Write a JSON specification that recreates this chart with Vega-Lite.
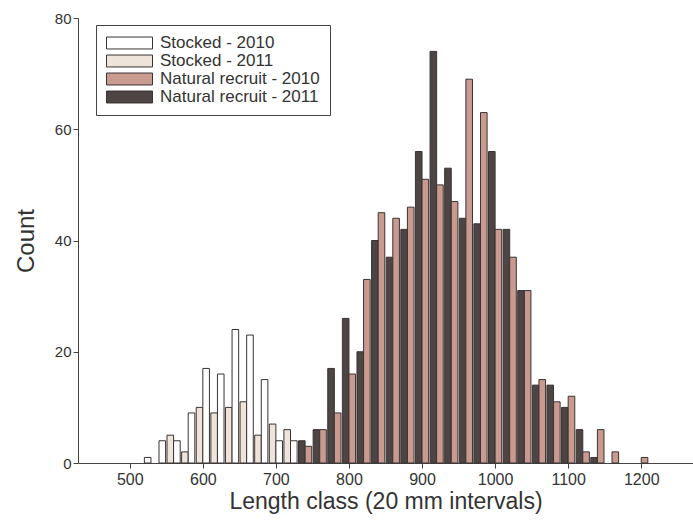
{
  "$schema": "https://vega.github.io/schema/vega-lite/v6.json",
  "autosize": "none",
  "width": 615,
  "height": 445,
  "padding": {"left": 78, "top": 18, "right": 0, "bottom": 68},
  "background": "white",
  "data": {
    "values": [
      {"length": 520, "year": 2010, "series": "Stocked - 2010", "count": 1},
      {"length": 540, "year": 2010, "series": "Stocked - 2010", "count": 4},
      {"length": 560, "year": 2010, "series": "Stocked - 2010", "count": 4},
      {"length": 580, "year": 2010, "series": "Stocked - 2010", "count": 9},
      {"length": 600, "year": 2010, "series": "Stocked - 2010", "count": 17},
      {"length": 620, "year": 2010, "series": "Stocked - 2010", "count": 16},
      {"length": 640, "year": 2010, "series": "Stocked - 2010", "count": 24},
      {"length": 660, "year": 2010, "series": "Stocked - 2010", "count": 23},
      {"length": 680, "year": 2010, "series": "Stocked - 2010", "count": 15},
      {"length": 700, "year": 2010, "series": "Stocked - 2010", "count": 4},
      {"length": 720, "year": 2010, "series": "Stocked - 2010", "count": 4},
      {"length": 560, "year": 2011, "series": "Stocked - 2011", "count": 5},
      {"length": 580, "year": 2011, "series": "Stocked - 2011", "count": 2},
      {"length": 600, "year": 2011, "series": "Stocked - 2011", "count": 10},
      {"length": 620, "year": 2011, "series": "Stocked - 2011", "count": 9},
      {"length": 640, "year": 2011, "series": "Stocked - 2011", "count": 10},
      {"length": 660, "year": 2011, "series": "Stocked - 2011", "count": 11},
      {"length": 680, "year": 2011, "series": "Stocked - 2011", "count": 5},
      {"length": 700, "year": 2011, "series": "Stocked - 2011", "count": 7},
      {"length": 720, "year": 2011, "series": "Stocked - 2011", "count": 6},
      {"length": 740, "year": 2010, "series": "Natural recruit - 2010", "count": 3},
      {"length": 760, "year": 2010, "series": "Natural recruit - 2010", "count": 6},
      {"length": 780, "year": 2010, "series": "Natural recruit - 2010", "count": 9},
      {"length": 800, "year": 2010, "series": "Natural recruit - 2010", "count": 16},
      {"length": 820, "year": 2010, "series": "Natural recruit - 2010", "count": 33},
      {"length": 840, "year": 2010, "series": "Natural recruit - 2010", "count": 45},
      {"length": 860, "year": 2010, "series": "Natural recruit - 2010", "count": 44},
      {"length": 880, "year": 2010, "series": "Natural recruit - 2010", "count": 46},
      {"length": 900, "year": 2010, "series": "Natural recruit - 2010", "count": 51},
      {"length": 920, "year": 2010, "series": "Natural recruit - 2010", "count": 50},
      {"length": 940, "year": 2010, "series": "Natural recruit - 2010", "count": 47},
      {"length": 960, "year": 2010, "series": "Natural recruit - 2010", "count": 69},
      {"length": 980, "year": 2010, "series": "Natural recruit - 2010", "count": 63},
      {"length": 1000, "year": 2010, "series": "Natural recruit - 2010", "count": 42},
      {"length": 1020, "year": 2010, "series": "Natural recruit - 2010", "count": 37},
      {"length": 1040, "year": 2010, "series": "Natural recruit - 2010", "count": 31},
      {"length": 1060, "year": 2010, "series": "Natural recruit - 2010", "count": 15},
      {"length": 1080, "year": 2010, "series": "Natural recruit - 2010", "count": 11},
      {"length": 1100, "year": 2010, "series": "Natural recruit - 2010", "count": 12},
      {"length": 1120, "year": 2010, "series": "Natural recruit - 2010", "count": 2},
      {"length": 1140, "year": 2010, "series": "Natural recruit - 2010", "count": 6},
      {"length": 1160, "year": 2010, "series": "Natural recruit - 2010", "count": 2},
      {"length": 1200, "year": 2010, "series": "Natural recruit - 2010", "count": 1},
      {"length": 740, "year": 2011, "series": "Natural recruit - 2011", "count": 4},
      {"length": 760, "year": 2011, "series": "Natural recruit - 2011", "count": 6},
      {"length": 780, "year": 2011, "series": "Natural recruit - 2011", "count": 17},
      {"length": 800, "year": 2011, "series": "Natural recruit - 2011", "count": 26},
      {"length": 820, "year": 2011, "series": "Natural recruit - 2011", "count": 20},
      {"length": 840, "year": 2011, "series": "Natural recruit - 2011", "count": 40},
      {"length": 860, "year": 2011, "series": "Natural recruit - 2011", "count": 37},
      {"length": 880, "year": 2011, "series": "Natural recruit - 2011", "count": 42},
      {"length": 900, "year": 2011, "series": "Natural recruit - 2011", "count": 56},
      {"length": 920, "year": 2011, "series": "Natural recruit - 2011", "count": 74},
      {"length": 940, "year": 2011, "series": "Natural recruit - 2011", "count": 53},
      {"length": 960, "year": 2011, "series": "Natural recruit - 2011", "count": 44},
      {"length": 980, "year": 2011, "series": "Natural recruit - 2011", "count": 43},
      {"length": 1000, "year": 2011, "series": "Natural recruit - 2011", "count": 56},
      {"length": 1020, "year": 2011, "series": "Natural recruit - 2011", "count": 42},
      {"length": 1040, "year": 2011, "series": "Natural recruit - 2011", "count": 31},
      {"length": 1060, "year": 2011, "series": "Natural recruit - 2011", "count": 14},
      {"length": 1080, "year": 2011, "series": "Natural recruit - 2011", "count": 14},
      {"length": 1100, "year": 2011, "series": "Natural recruit - 2011", "count": 10},
      {"length": 1120, "year": 2011, "series": "Natural recruit - 2011", "count": 6},
      {"length": 1140, "year": 2011, "series": "Natural recruit - 2011", "count": 1}
    ]
  },
  "encoding": {
    "x": {
      "field": "length",
      "type": "quantitative",
      "scale": {"domain": [436, 1264], "nice": false, "zero": false},
      "axis": {
        "values": [500, 600, 700, 800, 900, 1000, 1100, 1200],
        "format": "d",
        "title": "Length class (20 mm intervals)",
        "labelFontSize": 16,
        "titleFontSize": 23,
        "labelPadding": 3,
        "titlePadding": 3
      }
    },
    "y": {
      "field": "count",
      "type": "quantitative",
      "scale": {"domain": [0, 80], "nice": false},
      "axis": {
        "values": [0, 20, 40, 60, 80],
        "title": "Count",
        "labelFontSize": 15,
        "titleFontSize": 24,
        "titlePadding": 16
      }
    },
    "color": {
      "field": "series",
      "type": "nominal",
      "scale": {
        "domain": ["Stocked - 2010", "Stocked - 2011", "Natural recruit - 2010", "Natural recruit - 2011"],
        "range": ["#ffffff", "#efe4da", "#c99a90", "#4d4444"]
      },
      "legend": {
        "title": null,
        "orient": "none",
        "legendX": 18,
        "legendY": 7,
        "padding": 10,
        "strokeColor": "#444444",
        "fillColor": "#ffffff",
        "symbolType": "M-1,-0.26H1V0.26H-1Z",
        "symbolSize": 2116,
        "symbolStrokeColor": "#3a3333",
        "symbolStrokeWidth": 1,
        "symbolOpacity": 1,
        "clipHeight": 16,
        "rowPadding": 1,
        "labelOffset": 7,
        "labelFontSize": 17,
        "labelColor": "#333333",
        "labelLimit": 300
      }
    }
  },
  "layer": [
    {
      "transform": [{"filter": "datum.year == 2011"}],
      "mark": {"type": "bar", "width": 6.6, "xOffset": -3.3, "stroke": "#3a3333", "strokeWidth": 1, "opacity": 1}
    },
    {
      "transform": [{"filter": "datum.year == 2010"}],
      "mark": {"type": "bar", "width": 6.6, "xOffset": 3.3, "stroke": "#3a3333", "strokeWidth": 1, "opacity": 1}
    }
  ],
  "config": {
    "font": "Liberation Sans",
    "view": {"stroke": null},
    "axis": {
      "grid": false,
      "domainColor": "#444444",
      "tickColor": "#444444",
      "tickSize": 5,
      "labelColor": "#333333",
      "titleColor": "#333333",
      "titleFontWeight": "normal",
      "labelFont": "Liberation Sans",
      "titleFont": "Liberation Sans"
    },
    "legend": {"labelFont": "Liberation Sans"}
  }
}
